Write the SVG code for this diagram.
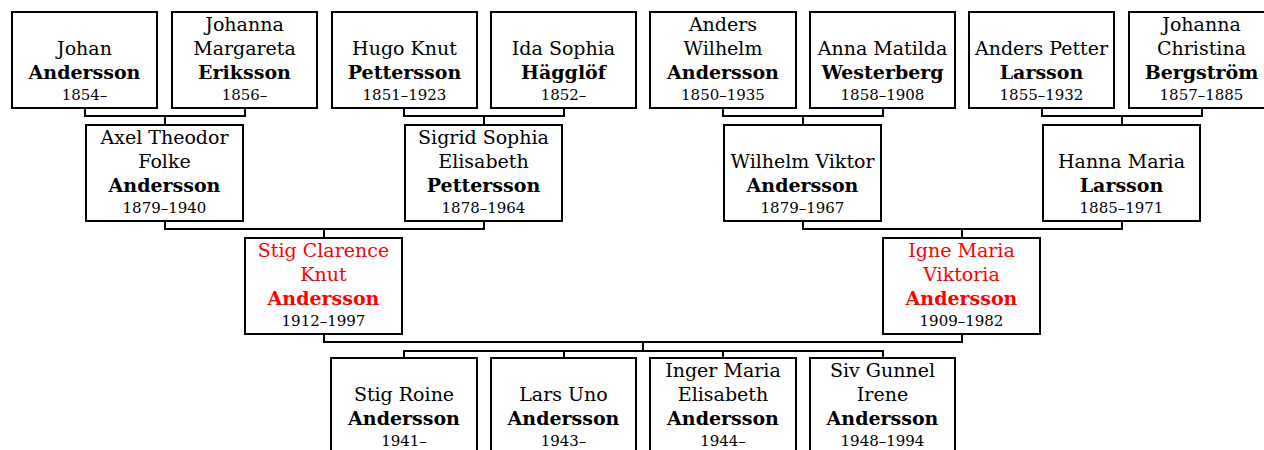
<svg xmlns="http://www.w3.org/2000/svg" width="1264" height="450" viewBox="0 0 1264 450">
<style>
.box{fill:#fff;stroke:#000;stroke-width:2}
.c{fill:none;stroke:#000;stroke-width:2}
text{font-family:"DejaVu Serif","Liberation Serif",serif;font-size:19px;text-anchor:middle;fill:#000}
.b{font-weight:bold}
.y{font-size:15px}
.r{fill:#f00}
</style>
<rect width="1264" height="450" fill="#fff"/>
<g id="connectors">
<path class="c" d="M85 109V116H245V109M165 116V124M404 109V116H564V109M484 116V124M723 109V116H883V109M803 116V124M1042 109V116H1202V109M1122 116V124"/>
<path class="c" d="M165 222V229H484V222M324 229V237M803 222V229H1122V222M962 229V237"/>
<path class="c" d="M324 335V342H962V335M643 342V351M404 357V351H883V357M564 351V357M723 351V357"/>
</g>
<g id="n1"><rect class="box" x="12" y="12" width="145" height="96"/><text x="84.5" y="55">Johan</text><text class="b" x="84.5" y="79">Andersson</text><text class="y" x="84.5" y="100">1854–</text></g>
<g id="n2"><rect class="box" x="172" y="12" width="145" height="96"/><text x="244.5" y="31">Johanna</text><text x="244.5" y="55">Margareta</text><text class="b" x="244.5" y="79">Eriksson</text><text class="y" x="244.5" y="100">1856–</text></g>
<g id="n3"><rect class="box" x="332" y="12" width="145" height="96"/><text x="404.5" y="55">Hugo Knut</text><text class="b" x="404.5" y="79">Pettersson</text><text class="y" x="404.5" y="100">1851–1923</text></g>
<g id="n4"><rect class="box" x="491" y="12" width="145" height="96"/><text x="563.5" y="55">Ida Sophia</text><text class="b" x="563.5" y="79">Hägglöf</text><text class="y" x="563.5" y="100">1852–</text></g>
<g id="n5"><rect class="box" x="650" y="12" width="146" height="96"/><text x="723" y="31">Anders</text><text x="723" y="55">Wilhelm</text><text class="b" x="723" y="79">Andersson</text><text class="y" x="723" y="100">1850–1935</text></g>
<g id="n6"><rect class="box" x="810" y="12" width="145" height="96"/><text x="882.5" y="55">Anna Matilda</text><text class="b" x="882.5" y="79">Westerberg</text><text class="y" x="882.5" y="100">1858–1908</text></g>
<g id="n7"><rect class="box" x="969" y="12" width="145" height="96"/><text x="1041.5" y="55">Anders Petter</text><text class="b" x="1041.5" y="79">Larsson</text><text class="y" x="1041.5" y="100">1855–1932</text></g>
<g id="n8"><rect class="box" x="1129" y="12" width="145" height="96"/><text x="1201.5" y="31">Johanna</text><text x="1201.5" y="55">Christina</text><text class="b" x="1201.5" y="79">Bergström</text><text class="y" x="1201.5" y="100">1857–1885</text></g>
<g id="n9"><rect class="box" x="86" y="125" width="157" height="96"/><text x="164.5" y="144">Axel Theodor</text><text x="164.5" y="168">Folke</text><text class="b" x="164.5" y="192">Andersson</text><text class="y" x="164.5" y="213">1879–1940</text></g>
<g id="n10"><rect class="box" x="405" y="125" width="157" height="96"/><text x="483.5" y="144">Sigrid Sophia</text><text x="483.5" y="168">Elisabeth</text><text class="b" x="483.5" y="192">Pettersson</text><text class="y" x="483.5" y="213">1878–1964</text></g>
<g id="n11"><rect class="box" x="724" y="125" width="157" height="96"/><text x="802.5" y="168">Wilhelm Viktor</text><text class="b" x="802.5" y="192">Andersson</text><text class="y" x="802.5" y="213">1879–1967</text></g>
<g id="n12"><rect class="box" x="1043" y="125" width="157" height="96"/><text x="1121.5" y="168">Hanna Maria</text><text class="b" x="1121.5" y="192">Larsson</text><text class="y" x="1121.5" y="213">1885–1971</text></g>
<g id="n13"><rect class="box" x="245" y="238" width="157" height="96"/><text class="r" x="323.5" y="257">Stig Clarence</text><text class="r" x="323.5" y="281">Knut</text><text class="b r" x="323.5" y="305">Andersson</text><text class="y" x="323.5" y="326">1912–1997</text></g>
<g id="n14"><rect class="box" x="883" y="238" width="157" height="96"/><text class="r" x="961.5" y="257">Igne Maria</text><text class="r" x="961.5" y="281">Viktoria</text><text class="b r" x="961.5" y="305">Andersson</text><text class="y" x="961.5" y="326">1909–1982</text></g>
<g id="n15"><rect class="box" x="331" y="358" width="146" height="96"/><text x="404" y="401">Stig Roine</text><text class="b" x="404" y="425">Andersson</text><text class="y" x="404" y="446">1941–</text></g>
<g id="n16"><rect class="box" x="491" y="358" width="145" height="96"/><text x="563.5" y="401">Lars Uno</text><text class="b" x="563.5" y="425">Andersson</text><text class="y" x="563.5" y="446">1943–</text></g>
<g id="n17"><rect class="box" x="650" y="358" width="146" height="96"/><text x="723" y="377">Inger Maria</text><text x="723" y="401">Elisabeth</text><text class="b" x="723" y="425">Andersson</text><text class="y" x="723" y="446">1944–</text></g>
<g id="n18"><rect class="box" x="810" y="358" width="145" height="96"/><text x="882.5" y="377">Siv Gunnel</text><text x="882.5" y="401">Irene</text><text class="b" x="882.5" y="425">Andersson</text><text class="y" x="882.5" y="446">1948–1994</text></g>
</svg>
